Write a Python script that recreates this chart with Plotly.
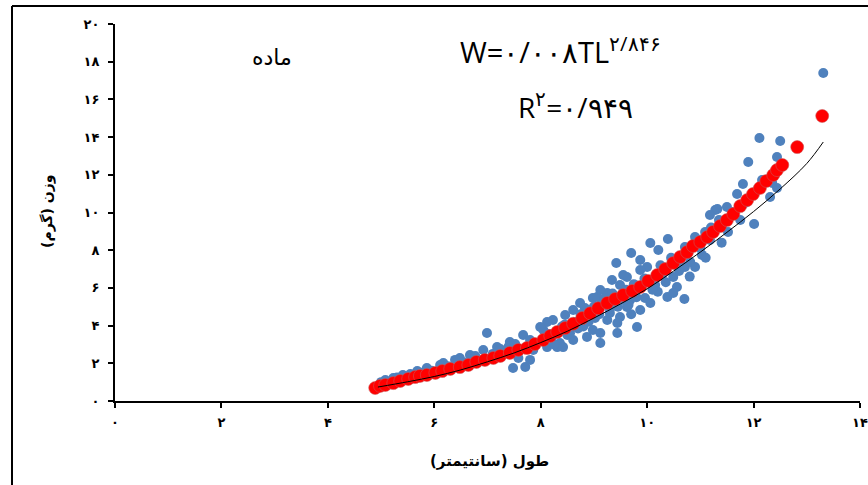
import plotly.graph_objects as go

# ---------------- data ----------------
obs_len = [13.31, 12.11, 12.50, 11.90, 12.44, 11.80, 11.69, 11.28, 11.18, 11.32,
           11.50, 11.75, 12.01, 12.31, 12.44, 12.35, 10.90, 10.71, 11.03, 10.71,
           10.90, 10.62, 10.39, 10.06, 10.21, 9.70, 9.42, 9.87, 10.00, 10.49,
           10.56, 10.38, 10.70, 9.62, 9.49, 8.98, 9.25, 9.12, 8.74, 8.61,
           8.87, 9.25, 9.49, 9.81, 9.62, 9.87, 10.06, 8.23, 8.05, 8.31,
           8.50, 8.61, 8.87, 9.12, 8.36, 8.12, 8.98, 9.44, 6.99, 8.12,
           7.99, 7.67, 7.42, 7.18, 6.92, 6.67, 6.48, 6.17, 5.86, 5.68,
           5.41, 5.23, 7.48, 7.71, 7.80, 7.58, 8.21, 8.31, 7.86, 8.42,
           9.12, 9.44, 10.49, 9.55, 9.06, 9.25, 8.93, 9.55, 6.11, 6.39,
           6.77, 7.24, 7.52, 7.80, 5.55, 5.08, 8.46, 8.65, 8.83, 9.02,
           9.30, 9.68, 9.96, 10.15, 10.28, 10.81, 11.00, 11.09, 11.41, 11.60,
           11.84, 12.07, 12.16, 11.52, 11.18, 9.87, 9.34, 9.12, 8.40, 8.80,
           9.70, 10.20, 10.80, 10.60, 11.40, 11.10,
           8.15, 8.25, 8.45, 8.55, 8.70, 8.75, 8.90, 9.00, 9.10, 9.20,
           9.30, 9.35, 9.45, 9.60, 9.65, 9.75, 9.80, 9.95, 10.10, 10.25,
           10.35, 10.45, 10.60, 10.75, 10.85, 11.05, 11.20, 11.35, 7.30, 7.60,
           7.90, 6.80, 6.55, 6.25, 5.95, 5.75, 5.30, 5.00, 7.10, 7.40]
obs_wt = [17.40, 13.95, 13.79, 12.68, 12.94, 11.51, 10.98, 10.13, 9.87, 10.19,
          10.29, 9.60, 9.39, 10.82, 11.30, 11.57, 8.70, 8.17, 7.75, 7.11,
          7.11, 7.48, 8.59, 8.38, 8.01, 7.85, 7.32, 7.48, 7.11, 6.58,
          6.05, 5.52, 5.41, 6.58, 6.15, 5.46, 5.73, 5.09, 5.20, 4.83,
          4.46, 4.30, 4.46, 3.93, 4.99, 4.83, 5.20, 4.30, 3.77, 3.61,
          3.50, 3.24, 3.40, 3.08, 3.08, 2.86, 3.77, 3.61, 3.61, 4.19,
          3.93, 3.50, 3.13, 2.86, 2.71, 2.44, 2.28, 2.02, 1.75, 1.59,
          1.38, 1.22, 1.75, 1.80, 2.18, 2.28, 3.40, 2.86, 2.71, 2.86,
          3.61, 4.14, 5.73, 6.68, 5.52, 5.20, 4.83, 5.36, 1.91, 2.18,
          2.39, 2.76, 3.02, 3.24, 1.43, 1.11, 4.56, 4.19, 4.93, 4.40,
          4.67, 5.36, 5.46, 6.15, 6.68, 7.37, 8.12, 8.97, 9.34, 10.03,
          10.50, 11.19, 11.72, 8.97, 8.54, 6.95, 6.42, 5.89, 3.95, 3.95,
          4.60, 5.80, 6.60, 6.90, 8.40, 7.60,
          3.55, 3.00, 4.05, 3.60, 3.85, 4.60, 4.20, 5.00, 4.60, 5.45,
          4.90, 5.70, 5.00, 5.90, 5.10, 6.20, 5.50, 6.50, 5.90, 7.20,
          6.30, 7.60, 7.00, 7.80, 8.20, 8.60, 9.20, 9.60, 2.55, 2.75,
          3.05, 2.20, 2.05, 1.85, 1.60, 1.50, 1.25, 1.00, 2.50, 2.90]

pred_len = [4.89, 4.98, 5.08, 5.23, 5.36, 5.51, 5.64, 5.73, 5.86, 6.02,
            6.15, 6.30, 6.48, 6.64, 6.79, 6.95, 7.11, 7.24, 7.42, 7.58,
            7.74, 7.89, 8.05, 8.18, 8.31, 8.46, 8.61, 8.78, 8.93, 9.08,
            9.25, 9.40, 9.55, 9.72, 9.87, 10.02, 10.19, 10.34, 10.49, 10.62,
            10.75, 10.86, 11.00, 11.13, 11.24, 11.37, 11.50, 11.62, 11.75, 11.88,
            11.99, 12.12, 12.24, 12.37, 12.44, 12.54, 12.82, 13.29]
pred_wt = [0.69, 0.80, 0.85, 0.95, 1.06, 1.17, 1.27, 1.33, 1.38, 1.49,
           1.59, 1.70, 1.80, 1.91, 2.07, 2.18, 2.28, 2.39, 2.55, 2.71,
           2.81, 3.02, 3.24, 3.45, 3.66, 3.87, 4.10, 4.40, 4.65, 4.92,
           5.20, 5.41, 5.62, 5.84, 6.05, 6.37, 6.68, 7.00, 7.32, 7.64,
           7.90, 8.22, 8.44, 8.70, 8.97, 9.28, 9.60, 9.92, 10.34, 10.66,
           10.98, 11.30, 11.67, 11.99, 12.25, 12.52, 13.47, 15.12]

trend_len = [4.94, 5.5, 6.0, 6.5, 7.0, 7.5, 8.0, 8.5, 9.0, 9.5,
             10.0, 10.5, 11.0, 11.5, 12.0, 12.5, 13.0, 13.31]
trend_wt = [0.74, 1.02, 1.30, 1.65, 2.08, 2.55, 3.10, 3.70, 4.40, 5.15,
            5.95, 6.90, 7.90, 8.95, 10.05, 11.25, 12.60, 13.74]

fa = "۰۱۲۳۴۵۶۷۸۹"
def to_fa(n):
    return "".join(fa[int(c)] for c in str(n))

x_ticks = list(range(0, 15, 2))
y_ticks = list(range(0, 21, 2))
x_ticktext = [to_fa(v) for v in x_ticks]
y_ticktext = [to_fa(v) for v in y_ticks]

species_label = "ماده"
equation_label = "W=۰/۰۰۸TL<sup>۲/۸۴۶</sup>"
r2_label = "R<sup>۲</sup>=۰/۹۴۹"
x_title = "\u200fطول (سانتیمتر)\u200f"
y_title = "\u200fوزن (گرم)\u200f"

# ---------------- figure ----------------
fig = go.Figure()
fig.add_trace(go.Scatter(
    x=obs_len, y=obs_wt, mode="markers",
    marker=dict(color="#4F81BD", size=10, line=dict(width=0)),
    cliponaxis=False, showlegend=False))
fig.add_trace(go.Scatter(
    x=pred_len, y=pred_wt, mode="markers",
    marker=dict(color="#FF0000", size=13,
                line=dict(color="rgba(200,90,90,0.55)", width=1)),
    cliponaxis=False, showlegend=False))
fig.add_trace(go.Scatter(
    x=trend_len, y=trend_wt, mode="lines",
    line=dict(color="black", width=1, shape="spline"),
    showlegend=False))

L, R, T, B = 115, 8, 24, 84
W, H = 868, 485
pw, ph = W - L - R, H - T - B

def px_x(p):
    return (p - L) / pw

def px_y(p):
    return (H - B - p) / ph

tick_font = dict(family="DejaVu Sans", size=13, color="black", weight="bold")

fig.update_layout(
    width=W, height=H,
    margin=dict(l=L, r=R, t=T, b=B, autoexpand=False),
    paper_bgcolor="white", plot_bgcolor="white",
    xaxis=dict(range=[0, 14], tickvals=x_ticks, ticktext=x_ticktext,
               showgrid=False, zeroline=False, showline=True,
               linecolor="black", linewidth=2, ticks="outside",
               ticklen=5, tickwidth=2, tickcolor="black",
               tickfont=tick_font, ticklabelstandoff=3, automargin=False),
    yaxis=dict(range=[0, 20], tickvals=y_ticks, ticktext=y_ticktext,
               showgrid=False, zeroline=False, showline=True,
               linecolor="black", linewidth=2, ticks="outside",
               ticklen=5, tickwidth=2, tickcolor="black",
               tickfont=tick_font, ticklabelstandoff=6, automargin=False),
    shapes=[
        dict(type="line", xref="paper", yref="paper",
             x0=px_x(12), x1=px_x(12), y0=px_y(6), y1=px_y(500),
             line=dict(color="black", width=2)),
        dict(type="line", xref="paper", yref="paper",
             x0=px_x(12), x1=px_x(880), y0=px_y(6), y1=px_y(6),
             line=dict(color="black", width=2)),
    ],
    annotations=[
        dict(text=species_label, xref="paper", yref="paper",
             x=px_x(272), y=px_y(57), showarrow=False,
             xanchor="center", yanchor="middle",
             font=dict(family="DejaVu Sans", size=22, color="black")),
        dict(text=equation_label, xref="paper", yref="paper",
             x=px_x(560), y=px_y(50), showarrow=False,
             xanchor="center", yanchor="middle",
             font=dict(family="Open Sans", size=29, color="black")),
        dict(text=r2_label, xref="paper", yref="paper",
             x=px_x(575), y=px_y(105), showarrow=False,
             xanchor="center", yanchor="middle",
             font=dict(family="Open Sans", size=28, color="black")),
        dict(text=x_title, xref="paper", yref="paper",
             x=px_x(489), y=px_y(461), showarrow=False,
             xanchor="center", yanchor="middle",
             font=dict(family="DejaVu Sans", size=15, color="black",
                       weight="bold")),
        dict(text=y_title, xref="paper", yref="paper",
             x=px_x(47), y=px_y(211), showarrow=False, textangle=-90,
             xanchor="center", yanchor="middle",
             font=dict(family="DejaVu Sans", size=14, color="black",
                       weight="bold")),
    ],
)

fig.write_html("out.html",
               config={"displayModeBar": False},
               post_script="document.body.style.margin='0px';"
                           "document.body.style.overflow='hidden';")
